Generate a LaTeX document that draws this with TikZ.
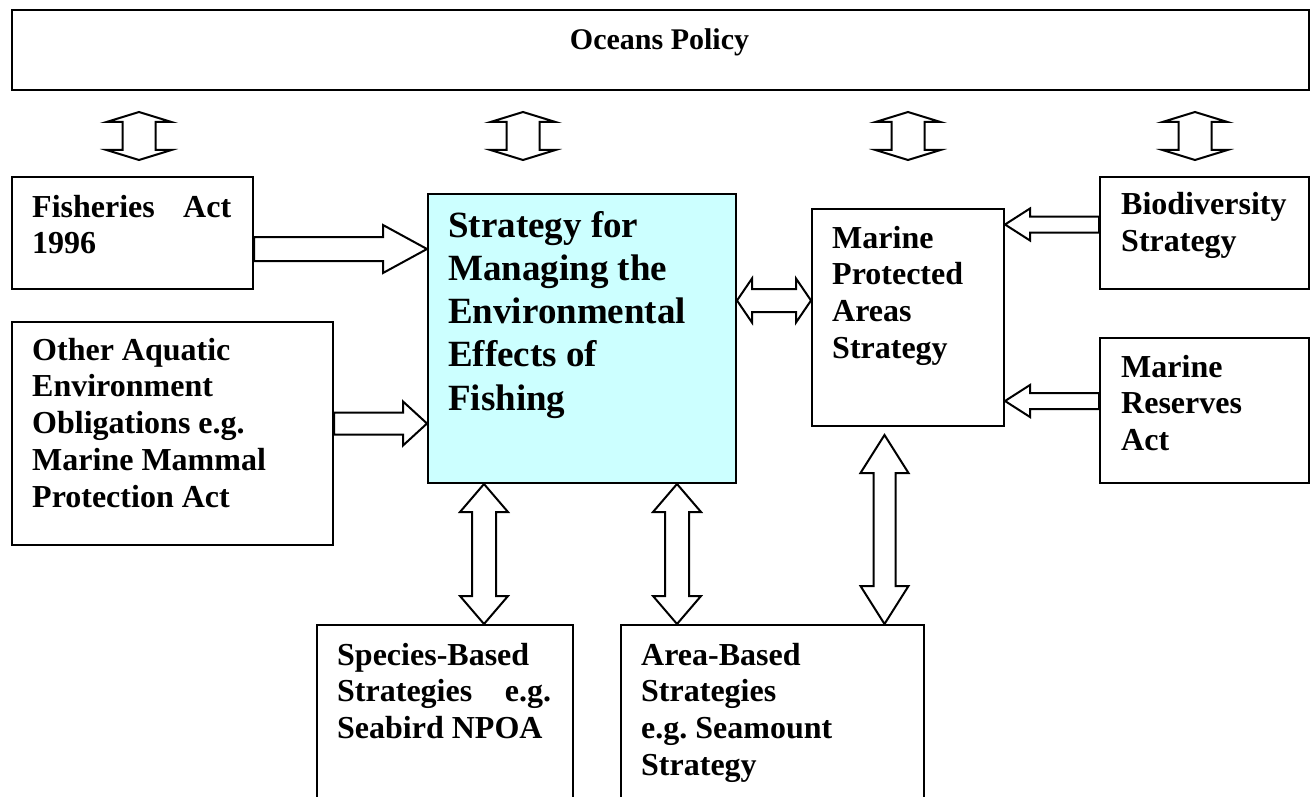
\documentclass[tikz,border=0pt]{standalone}
\usepackage{fontspec}
\setmainfont{Liberation Serif}
\usetikzlibrary{calc}
\definecolor{boxcyan}{HTML}{CCFFFF}
\frenchspacing

% hollow block arrows drawn as outlines
% single horizontal: #1 tail, #2 tip, #3 shaft half width, #4 head half width, #5 signed head length
\newcommand\blockH[5]{%
  \draw[blk] let \p1=(#1), \p2=(#2) in
    (\x1,\y2+#3) -- (\x2-#5,\y2+#3) -- (\x2-#5,\y2+#4) -- (\x2,\y2)
    -- (\x2-#5,\y2-#4) -- (\x2-#5,\y2-#3) -- (\x1,\y2-#3) -- cycle;}
% double horizontal: #1 left tip, #2 right tip
\newcommand\blockHH[5]{%
  \draw[blk] let \p1=(#1), \p2=(#2) in
    (\x1,\y1) -- (\x1+#5,\y1+#4) -- (\x1+#5,\y1+#3) -- (\x2-#5,\y1+#3)
    -- (\x2-#5,\y1+#4) -- (\x2,\y1) -- (\x2-#5,\y1-#4) -- (\x2-#5,\y1-#3)
    -- (\x1+#5,\y1-#3) -- (\x1+#5,\y1-#4) -- cycle;}
% double vertical: #1 upper tip, #2 lower tip
\newcommand\blockVV[5]{%
  \draw[blk] let \p1=(#1), \p2=(#2) in
    (\x1,\y1) -- (\x1+#4,\y1-#5) -- (\x1+#3,\y1-#5) -- (\x1+#3,\y2+#5)
    -- (\x1+#4,\y2+#5) -- (\x1,\y2) -- (\x1-#4,\y2+#5) -- (\x1-#3,\y2+#5)
    -- (\x1-#3,\y1-#5) -- (\x1-#4,\y1-#5) -- cycle;}

% ragged text block whose baseline is that of its first line
\newcommand\lines[1]{\parbox[t]{400pt}{\raggedright\frenchspacing #1}}

\tikzset{
  box/.style={draw=black, line width=2pt, fill=white, inner sep=0pt, anchor=north west},
  lbl/.style={anchor=base west, inner sep=0pt,
              font=\bfseries\fontsize{32}{36.9}\selectfont},
  biglbl/.style={anchor=base west, inner sep=0pt,
              font=\bfseries\fontsize{37}{43.3}\selectfont},
  blk/.style={draw=black, line width=2pt, fill=white, line join=miter},
}

\begin{document}
\begin{tikzpicture}[x=1pt, y=-1pt]
\clip (0,0) rectangle (1315,797);
\fill[white] (0,0) rectangle (1315,797);

% boxes
\node[box, minimum width=1297pt, minimum height=80pt] (ocean) at (11,9.5) {};
\node[box, minimum width=241pt, minimum height=112pt] (fish) at (11,176) {};
\node[box, minimum width=321pt, minimum height=223pt] (other) at (11,321) {};
\node[box, fill=boxcyan, minimum width=308pt, minimum height=289pt] (main) at (427,193) {};
\node[box, minimum width=192pt, minimum height=217pt] (mpa) at (811,208) {};
\node[box, minimum width=209pt, minimum height=112pt] (bio) at (1099,176) {};
\node[box, minimum width=209pt, minimum height=145pt] (mres) at (1099,337) {};
\node[box, minimum width=256pt, minimum height=220pt] (spec) at (316,624) {};
\node[box, minimum width=303pt, minimum height=220pt] (area) at (620,624) {};

% labels
\node[anchor=base, inner sep=0pt, font=\bfseries\fontsize{30}{36}\selectfont]
  (oceanT) at (659.5,50) {Oceans Policy};
\node[lbl] (fishT) at (32,217) {\lines{\makebox[199pt][s]{Fisheries Act}\\1996}};
\node[lbl] (otherT) at (32,360) {\lines{Other Aquatic\\Environment\\Obligations e.g.\\Marine Mammal\\Protection Act}};
\node[biglbl] (mainT) at (448,237) {\lines{Strategy for\\Managing the\\Environmental\\Effects of\\Fishing}};
\node[lbl] (mpaT) at (832,248) {\lines{Marine\\Protected\\Areas\\Strategy}};
\node[lbl] (bioT) at (1121,214.5) {\lines{Biodiversity\\Strategy}};
\node[lbl] (mresT) at (1121,377) {\lines{Marine\\Reserves\\Act}};
\node[lbl] (specT) at (337,665) {\lines{Species-Based\\\makebox[214pt][s]{Strategies e.g.}\\Seabird NPOA}};
\node[lbl] (areaT) at (641,665) {\lines{Area-Based\\Strategies\\e.g. Seamount\\Strategy}};

% links between the policy and the layer below it
\coordinate (u1) at (139,112);  \coordinate (d1) at (139,160);
\coordinate (u2) at (523,112);  \coordinate (d2) at (523,160);
\coordinate (u3) at (908,112);  \coordinate (d3) at (908,160);
\coordinate (u4) at (1195,112); \coordinate (d4) at (1195,160);
\blockVV{u1}{d1}{16.5pt}{32.5pt}{10pt}
\blockVV{u2}{d2}{16.5pt}{32.5pt}{10pt}
\blockVV{u3}{d3}{16.5pt}{32.5pt}{10pt}
\blockVV{u4}{d4}{16.5pt}{32.5pt}{10pt}

% inputs to the main strategy
\coordinate (fa) at ([yshift=-16pt]fish.east);
\blockH{fa}{fa -| main.west}{12pt}{24pt}{44pt}
\coordinate (oa) at ([yshift=10pt]other.east);
\blockH{oa}{oa -| main.west}{11pt}{22pt}{24pt}

% main strategy <-> marine protected areas
\coordinate (ma) at ([yshift=17pt]mpa.west);
\blockHH{ma -| main.east}{ma}{11.5pt}{22pt}{15pt}

% inputs to the marine protected areas strategy
\coordinate (ba) at ([yshift=8.5pt]bio.west);
\blockH{ba}{ba -| mpa.east}{8pt}{16pt}{-25pt}
\coordinate (ra) at ([yshift=9.5pt]mres.west);
\blockH{ra}{ra -| mpa.east}{8pt}{16pt}{-25pt}

% links to the species and area based strategies
\coordinate (sa) at ([xshift=39pt]spec.north);
\blockVV{sa |- main.south}{sa}{12pt}{24pt}{28pt}
\coordinate (aa) at ([xshift=-95.5pt]area.north);
\blockVV{aa |- main.south}{aa}{12pt}{24pt}{28pt}
\coordinate (pa) at ([xshift=112pt]area.north);
\coordinate (pt) at ($(pa |- mpa.south)+(0,8)$);
\blockVV{pt}{pa}{11pt}{24pt}{38pt}
\end{tikzpicture}
\end{document}
